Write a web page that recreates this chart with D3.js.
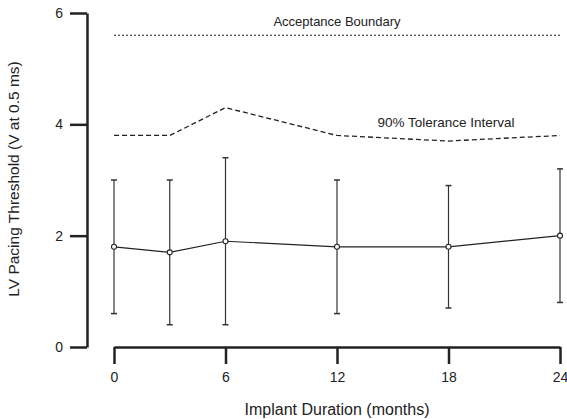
<!DOCTYPE html>
<html><head><meta charset="utf-8">
<script src="https://cdn.jsdelivr.net/npm/d3@7"></script>
<style>body{margin:0;background:#fff}text{font-family:"Liberation Sans",Arial,sans-serif;fill:#222}</style>
</head><body>
<svg id="c" width="567" height="419"></svg>
<script>
const months = [0, 3, 6, 12, 18, 24];
const meanThreshold = [1.8, 1.7, 1.9, 1.8, 1.8, 2.0];
const upperBar = [3.0, 3.0, 3.4, 3.0, 2.9, 3.2];
const lowerBar = [0.6, 0.4, 0.4, 0.6, 0.7, 0.8];
const tolerance = [3.8, 3.8, 4.3, 3.8, 3.7, 3.8];
const acceptance = 5.6;
const xTicks = [0, 6, 12, 18, 24];
const yTicks = [0, 2, 4, 6];

const svg = d3.select("#c");
const x = d3.scaleLinear().domain([0, 24]).range([114, 560]);
const y = d3.scaleLinear().domain([0, 6]).range([347, 13]);
const ff = "Liberation Sans, Arial, sans-serif";

// Y axis
const yAxis = svg.append("g").attr("transform", "translate(87,0)")
  .call(d3.axisLeft(y).tickValues(yTicks).tickFormat(d3.format("d")).tickSize(17).tickPadding(7).tickSizeOuter(0));
yAxis.select(".domain").attr("stroke", "#222").attr("stroke-width", 2.5);
yAxis.selectAll(".tick line").attr("stroke", "#222").attr("stroke-width", 2.5);
yAxis.selectAll(".tick text").attr("font-size", 14).style("font-family", ff).attr("fill", "#222");

// X axis
const xAxis = svg.append("g").attr("transform", "translate(0,347)")
  .call(d3.axisBottom(x).tickValues(xTicks).tickFormat(d3.format("d")).tickSize(17).tickPadding(8).tickSizeOuter(0));
xAxis.select(".domain").attr("stroke", "#222").attr("stroke-width", 2.5);
xAxis.selectAll(".tick line").attr("stroke", "#222").attr("stroke-width", 2.5);
xAxis.selectAll(".tick text").attr("font-size", 14).style("font-family", ff).attr("fill", "#222");

// Titles
svg.append("text").attr("x", 337).attr("y", 415).attr("text-anchor", "middle").attr("font-size", 16)
  .text("Implant Duration (months)");
svg.append("text").attr("transform", "translate(19,179) rotate(-90)").attr("text-anchor", "middle").attr("font-size", 15.5)
  .text("LV Pacing Threshold (V at 0.5 ms)");

// Acceptance boundary
svg.append("line").attr("x1", x(0)).attr("x2", x(24)).attr("y1", y(acceptance)).attr("y2", y(acceptance))
  .attr("stroke", "#222").attr("stroke-width", 1.2).attr("stroke-dasharray", "2,2");
svg.append("text").attr("x", 337).attr("y", 25.5).attr("text-anchor", "middle").attr("font-size", 13)
  .text("Acceptance Boundary");

// Tolerance interval
const line = d3.line().x((d, i) => x(months[i])).y(d => y(d));
svg.append("path").attr("d", line(tolerance)).attr("fill", "none").attr("stroke", "#222")
  .attr("stroke-width", 1.3).attr("stroke-dasharray", "5,3");
svg.append("text").attr("x", 446).attr("y", 127).attr("text-anchor", "middle").attr("font-size", 13.5)
  .text("90% Tolerance Interval");

// Error bars
const eb = svg.append("g");
months.forEach((m, i) => {
  eb.append("line").attr("x1", x(m)).attr("x2", x(m)).attr("y1", y(upperBar[i])).attr("y2", y(lowerBar[i]))
    .attr("stroke", "#333").attr("stroke-width", 1.2);
  [upperBar[i], lowerBar[i]].forEach(v => {
    eb.append("line").attr("x1", x(m) - 3).attr("x2", x(m) + 3).attr("y1", y(v)).attr("y2", y(v))
      .attr("stroke", "#333").attr("stroke-width", 1.5);
  });
});

// Mean line
svg.append("path").attr("d", line(meanThreshold)).attr("fill", "none").attr("stroke", "#222").attr("stroke-width", 1.2);
svg.selectAll("circle.m").data(meanThreshold).enter().append("circle")
  .attr("cx", (d, i) => x(months[i])).attr("cy", d => y(d)).attr("r", 2.5)
  .attr("fill", "#fff").attr("stroke", "#222").attr("stroke-width", 1.1);
</script>
</body></html>
